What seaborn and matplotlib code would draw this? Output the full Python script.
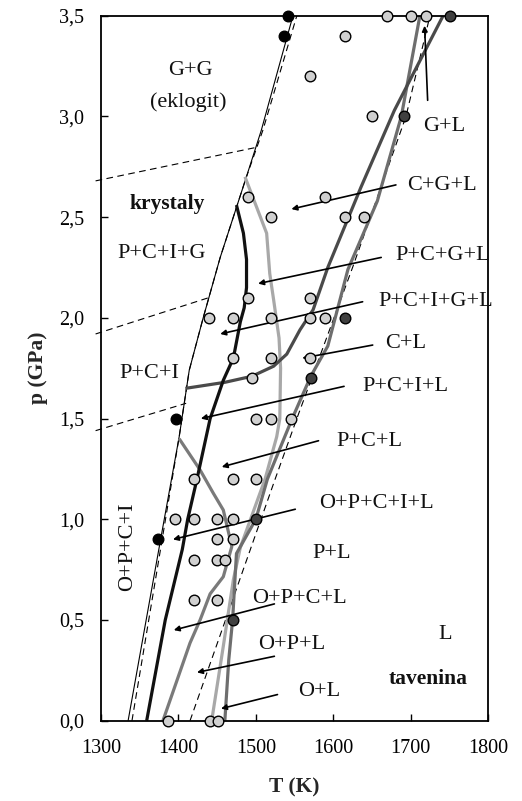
import numpy as np
import pandas as pd
import matplotlib
matplotlib.use("Agg")
import matplotlib.pyplot as plt
import seaborn as sns

# ---------------- data ----------------
# experimental points (T in K, p in GPa)
gray_T = [1670, 1700, 1720, 1615, 1570, 1650, 1490, 1590, 1520, 1615, 1640,
          1490, 1570, 1440, 1470, 1520, 1570, 1590, 1470, 1520, 1570, 1495,
          1500, 1520, 1545, 1420, 1470, 1500, 1395, 1420, 1450, 1470,
          1450, 1470, 1420, 1450, 1460, 1420, 1450, 1387, 1441, 1451]
gray_p = [3.5, 3.5, 3.5, 3.4, 3.2, 3.0, 2.6, 2.6, 2.5, 2.5, 2.5,
          2.1, 2.1, 2.0, 2.0, 2.0, 2.0, 2.0, 1.8, 1.8, 1.8, 1.7,
          1.5, 1.5, 1.5, 1.2, 1.2, 1.2, 1.0, 1.0, 1.0, 1.0,
          0.9, 0.9, 0.8, 0.8, 0.8, 0.6, 0.6, 0.0, 0.0, 0.0]
black_T = [1542, 1537, 1397, 1373]
black_p = [3.5, 3.4, 1.5, 0.9]
dark_T = [1751, 1692, 1615, 1571, 1500, 1470]
dark_p = [3.5, 3.0, 2.0, 1.7, 1.0, 0.5]

# thin boundary lines
solidus_T = [1335, 1377, 1401, 1414, 1432, 1454, 1487, 1507, 1548]
solidus_p = [0.0, 0.9, 1.41, 1.74, 2.0, 2.3, 2.69, 2.93, 3.5]
solidus2_T = [1340, 1379, 1401, 1414, 1432, 1454, 1487, 1509, 1553]
solidus2_p = [0.0, 0.9, 1.41, 1.74, 2.0, 2.3, 2.69, 2.93, 3.5]
liq_dash_T = [1415, 1525, 1553, 1625, 1694, 1725]
liq_dash_p = [0.0, 1.2, 1.5, 2.25, 3.0, 3.5]
dash_a_T = [1293, 1499]
dash_a_p = [2.68, 2.845]
dash_b_T = [1293, 1439]
dash_b_p = [1.92, 2.10]
dash_c_T = [1293, 1410]
dash_c_p = [1.44, 1.576]

# thick phase boundaries
black_line_T = [1359, 1383, 1405, 1412, 1424, 1441, 1458, 1471, 1480, 1485, 1488, 1488, 1484, 1475]
black_line_p = [0.0, 0.5, 0.85, 1.0, 1.2, 1.5, 1.69, 1.8, 1.98, 2.05, 2.15, 2.29, 2.42, 2.56]
dark_line_T = [1409, 1460, 1495, 1523, 1540, 1557, 1574, 1593, 1636, 1679, 1742]
dark_line_p = [1.65, 1.68, 1.71, 1.76, 1.82, 1.94, 2.04, 2.25, 2.65, 3.03, 3.5]
vline_T = [1380, 1415, 1428, 1441, 1458, 1469, 1458, 1445, 1428, 1401]
vline_p = [0.0, 0.386, 0.5, 0.63, 0.715, 0.865, 1.046, 1.13, 1.245, 1.40]
light_line_T = [1443, 1458, 1471, 1480, 1496, 1512, 1527, 1531, 1532, 1530, 1523, 1518, 1514, 1486]
light_line_p = [0.0, 0.37, 0.70, 0.86, 1.03, 1.2, 1.41, 1.5, 1.75, 1.9, 2.09, 2.22, 2.42, 2.70]
liq_line_T = [1460, 1465, 1470, 1475, 1500, 1515, 1547, 1571, 1593, 1619, 1657, 1688, 1712]
liq_line_p = [0.0, 0.3, 0.5, 0.83, 1.0, 1.2, 1.5, 1.71, 1.86, 2.24, 2.58, 3.0, 3.5]

# region labels
labels = ["G+G", "(eklogit)", "P+C+I+G", "P+C+I", "G+L", "C+G+L", "P+C+G+L",
          "P+C+I+G+L", "C+L", "P+C+I+L", "P+C+L", "O+P+C+I+L", "P+L",
          "O+P+C+L", "O+P+L", "O+L", "L"]
label_T = [1415, 1413, 1378, 1363, 1744, 1741, 1741, 1733, 1693, 1693, 1647,
           1656, 1598, 1556, 1546, 1582, 1744]
label_p = [3.23, 3.07, 2.32, 1.725, 2.95, 2.656, 2.31, 2.08, 1.874, 1.658, 1.385,
           1.079, 0.831, 0.608, 0.376, 0.144, 0.426]
bold_labels = ["krystaly", "tavenina"]
bold_T = [1385, 1723]
bold_p = [2.566, 0.206]
rot_label = "O+P+C+I"
rot_T, rot_p = 1334, 0.862

# arrows: tail -> head
arrow_tail_T = [1722, 1681, 1662, 1638, 1651, 1614, 1581, 1551, 1524, 1524, 1528]
arrow_tail_p = [3.08, 2.66, 2.30, 2.08, 1.865, 1.66, 1.39, 1.05, 0.58, 0.32, 0.13]
arrow_head_T = [1718, 1546, 1503, 1454, 1560, 1429, 1456, 1393, 1394, 1424, 1455]
arrow_head_p = [3.45, 2.54, 2.17, 1.92, 1.80, 1.50, 1.26, 0.90, 0.45, 0.24, 0.06]

x_ticks = [1300, 1400, 1500, 1600, 1700, 1800]
y_ticks = [0.0, 0.5, 1.0, 1.5, 2.0, 2.5, 3.0, 3.5]
y_ticklabels = ["0,0", "0,5", "1,0", "1,5", "2,0", "2,5", "3,0", "3,5"]

# ---------------- style ----------------
sns.set_theme(style="ticks")
plt.rcParams["font.family"] = ["Liberation Serif", "DejaVu Serif"]
plt.rcParams["axes.linewidth"] = 1.3

fig = plt.figure(figsize=(5.22, 8.01), dpi=100)
ax = fig.add_axes([0.1935, 0.1002, 0.7414, 0.8802])

def line(T, p, color, lw, ls="-", clip=True):
    sns.lineplot(x=T, y=p, sort=False, estimator=None, color=color, lw=lw,
                 ls=ls, ax=ax, legend=False)
    ax.lines[-1].set_clip_on(clip)
    ax.lines[-1].set_solid_capstyle("butt")
    ax.lines[-1].set_solid_joinstyle("round")

# thin lines
line(solidus_T, solidus_p, "black", 0.8)
line(solidus2_T, solidus2_p, "black", 0.8, ls=(0, (6, 4)))
line(liq_dash_T, liq_dash_p, "black", 0.8, ls=(0, (6, 4)))
line(dash_a_T, dash_a_p, "black", 0.8, ls=(0, (6, 4)), clip=False)
line(dash_b_T, dash_b_p, "black", 0.8, ls=(0, (6, 4)), clip=False)
line(dash_c_T, dash_c_p, "black", 0.8, ls=(0, (6, 4)), clip=False)

# thick lines
line(vline_T, vline_p, "#7a7a7a", 2.3)
line(light_line_T, light_line_p, "#a8a8a8", 2.3)
line(liq_line_T, liq_line_p, "#6e6e6e", 2.3)
line(dark_line_T, dark_line_p, "#4a4a4a", 2.3)
line(black_line_T, black_line_p, "#111111", 2.3)

# arrows
for tT, tp, hT, hp in zip(arrow_tail_T, arrow_tail_p, arrow_head_T, arrow_head_p):
    ax.annotate("", xy=(hT, hp), xytext=(tT, tp),
                arrowprops=dict(arrowstyle="-|>", color="black", lw=1.2,
                                mutation_scale=8, shrinkA=0, shrinkB=0),
                zorder=4)

# points
sns.scatterplot(x=gray_T, y=gray_p, color="#d0d0d0", edgecolor="black",
                linewidth=1.0, s=58, ax=ax, clip_on=False, zorder=5, legend=False)
sns.scatterplot(x=dark_T, y=dark_p, color="#404040", edgecolor="black",
                linewidth=1.0, s=58, ax=ax, clip_on=False, zorder=5, legend=False)
sns.scatterplot(x=black_T, y=black_p, color="black", edgecolor="black",
                linewidth=1.0, s=58, ax=ax, clip_on=False, zorder=5, legend=False)

# labels
for t, x, y in zip(labels, label_T, label_p):
    ax.text(x, y, t, ha="center", va="center", fontsize=16, color="#111111",
            clip_on=False)
for t, x, y in zip(bold_labels, bold_T, bold_p):
    ax.text(x, y, t, ha="center", va="center", fontsize=15.5,
            fontweight="bold", color="#111111")
ax.text(rot_T, rot_p, rot_label, ha="center", va="center", rotation=90,
        fontsize=16, color="#111111")

# axes
ax.set_xlim(1300, 1800)
ax.set_ylim(0, 3.5)
ax.set_xticks(x_ticks)
ax.set_yticks(y_ticks)
ax.set_yticklabels(y_ticklabels)
ax.tick_params(direction="in", length=5, width=1.0, labelsize=14.5,
               colors="black")
ax.tick_params(axis="x", pad=13)
ax.tick_params(axis="y", pad=12)
for s in ax.spines.values():
    s.set_visible(True)
    s.set_color("black")
    s.set_linewidth(1.3)
ax.set_xlabel("T (K)", fontsize=15.5, fontweight="bold", labelpad=14)
ax.set_ylabel("p (GPa)", fontsize=15.5, fontweight="bold", labelpad=8)
ax.set_facecolor("white")
fig.patch.set_facecolor("white")

fig.savefig("out.png", dpi=100)
